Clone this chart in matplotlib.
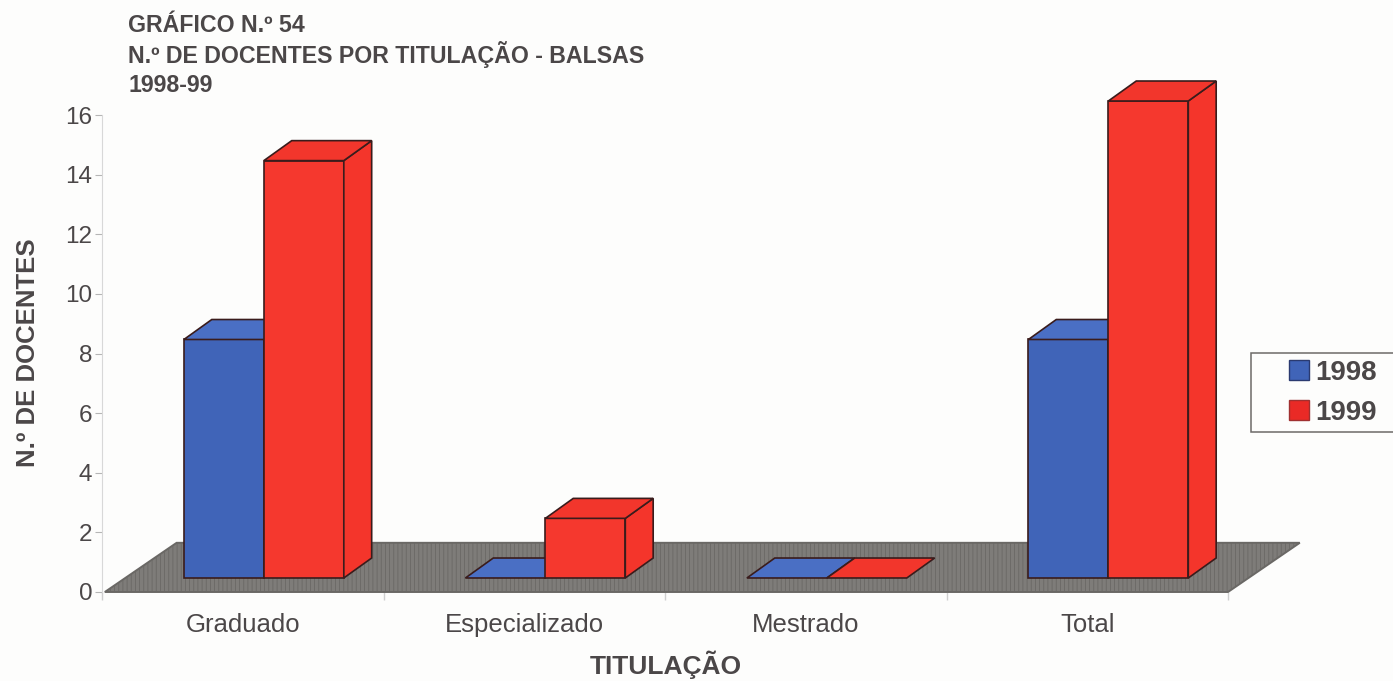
import matplotlib
matplotlib.use("Agg")
import matplotlib.pyplot as plt
from matplotlib.patches import Polygon, Patch, Rectangle

categories = ["Graduado", "Especializado", "Mestrado", "Total"]
values_1998 = [8, 0, 0, 8]
values_1999 = [14, 2, 0, 16]
y_ticks = [0, 2, 4, 6, 8, 10, 12, 14, 16]
title_lines = ["GRÁFICO N.º 54", "N.º DE DOCENTES POR TITULAÇÃO - BALSAS", "1998-99"]

BG = "#fdfdfc"
TEXT = "#4b4748"
BLUE = "#4064b8"
BLUE_TOP = "#4a6fc4"
RED = "#f5382e"
RED_SIDE = "#f4352b"
RED_TOP = "#f2362c"
EDGE = "#3a1c1c"
FLOOR = "#7e7c79"

# depth of the fake 3d, in data units
BAR_W = 0.284
BAR_DX = 0.099
BAR_DY = 0.67
BASE = 0.47
GROUP_OFFSET = 0.575
FLOOR_X0 = 0.01
FLOOR_DX = 0.255
FLOOR_DY = 1.65

plt.rcParams["font.family"] = ["Liberation Sans", "DejaVu Sans"]
plt.rcParams["hatch.linewidth"] = 0.6
plt.rcParams["hatch.color"] = "#8e8c89"

fig = plt.figure(figsize=(13.93, 6.81), dpi=100, facecolor=BG)
ax = fig.add_axes([102 / 1393, 89 / 681, 1126 / 1393, 477 / 681])
ax.set_facecolor("none")
ax.set_xlim(0, len(categories))
ax.set_ylim(0, 16)


def draw_bar(x, val, front, side, top):
    y0 = BASE
    y1 = BASE + val
    x1 = x + BAR_W
    if val > 0:
        ax.add_patch(Polygon([(x, y0), (x1, y0), (x1, y1), (x, y1)], fc=front, ec=EDGE, lw=1.2, zorder=3, clip_on=False))
        ax.add_patch(Polygon([(x1, y0), (x1 + BAR_DX, y0 + BAR_DY), (x1 + BAR_DX, y1 + BAR_DY), (x1, y1)],
                             fc=side, ec=EDGE, lw=1.2, zorder=3, clip_on=False))
    ax.add_patch(Polygon([(x, y1), (x1, y1), (x1 + BAR_DX, y1 + BAR_DY), (x + BAR_DX, y1 + BAR_DY)],
                         fc=top, ec=EDGE, lw=1.2, zorder=3, clip_on=False))


# floor
ax.add_patch(Polygon([(FLOOR_X0, 0), (len(categories), 0), (len(categories) + FLOOR_DX, FLOOR_DY), (FLOOR_X0 + FLOOR_DX, FLOOR_DY)],
                     fc=FLOOR, ec="#6a6865", lw=1.4, hatch="||||", zorder=2, clip_on=False))

for i in range(len(categories)):
    c = i + GROUP_OFFSET
    draw_bar(c - BAR_W, values_1998[i], BLUE, BLUE, BLUE_TOP)
    draw_bar(c, values_1999[i], RED, RED_SIDE, RED_TOP)

for s in ["top", "right"]:
    ax.spines[s].set_visible(False)
ax.spines["left"].set_color("#d8d8d8")
ax.spines["bottom"].set_visible(False)

ax.set_yticks(y_ticks)
ax.set_xticks(range(len(categories) + 1))
ax.set_xticklabels([])
ax.set_xticks([i + 0.5 for i in range(len(categories))], minor=True)
ax.set_xticklabels(categories, minor=True, fontsize=18.5, color=TEXT)
ax.tick_params(axis="x", which="minor", length=0, pad=15)
ax.tick_params(axis="x", which="major", length=6, color="#cfcfcf", width=1)
ax.tick_params(axis="y", length=5, color="#b5b5b5", labelsize=17.5, labelcolor=TEXT, pad=2)

fig.text(666 / 1393, 1 - 665 / 681, "TITULAÇÃO", ha="center", va="center", fontsize=19, fontweight="bold", color=TEXT)
fig.text(28 / 1393, 1 - 353 / 681, "N.º DE DOCENTES", ha="center", va="center", rotation=90, fontsize=18.5, fontweight="bold", color=TEXT)

for line, ypx in zip(title_lines, [25, 55, 85]):
    fig.text(128 / 1393, 1 - ypx / 681, line, ha="left", va="center", fontsize=16.7, fontweight="bold", color=TEXT)

# legend box runs off the right edge
fig.add_artist(Rectangle((1251 / 1393, 1 - 432 / 681), 160 / 1393, 79 / 681, transform=fig.transFigure,
                         fc=BG, ec="#6d6a68", lw=1.1))
handles = [Patch(fc=BLUE, ec="#2a3a70", label="1998"), Patch(fc="#ea2a26", ec="#a03030", label="1999")]
fig.legend(handles=handles, loc="center left", bbox_to_anchor=(1289 / 1393, 1 - 393 / 681),
           frameon=False, prop={"size": 20, "weight": "bold"}, labelcolor=TEXT,
           handlelength=0.72, handleheight=0.72, handletextpad=0.22, labelspacing=0.5, borderpad=0, borderaxespad=0)

fig.savefig("out.png", dpi=100, facecolor=BG)
